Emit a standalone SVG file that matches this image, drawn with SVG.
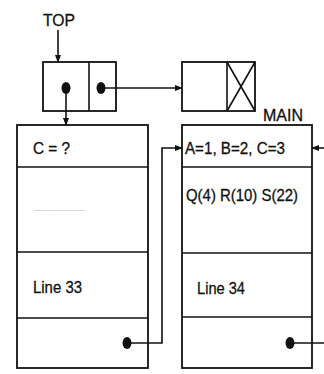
<svg xmlns="http://www.w3.org/2000/svg" width="324" height="374" viewBox="0 0 324 374">
<style>
.box{fill:#fff;stroke:#111;stroke-width:1.8}
.ln{fill:none;stroke:#111;stroke-width:1.6}
.t{font-family:"Liberation Sans",Arial,sans-serif;font-size:17px;fill:#111;stroke:#111;stroke-width:0.3}
.dot{fill:#111}
</style>
<defs>
<marker id="ah" markerWidth="8" markerHeight="8" refX="7" refY="4" orient="auto" markerUnits="userSpaceOnUse">
<path d="M0,1 L8,4 L0,7 Z" fill="#111"/>
</marker>
</defs>
<rect width="324" height="374" fill="#fff"/>
<g id="top-label"><text class="t" x="43" y="26" textLength="32" lengthAdjust="spacingAndGlyphs">TOP</text></g>
<g id="top-node">
<rect class="box" x="43" y="62" width="73" height="49"/>
<line class="ln" x1="89" y1="62" x2="89" y2="111"/>
<ellipse class="dot" cx="66" cy="88" rx="4.5" ry="6"/>
<ellipse class="dot" cx="101" cy="88" rx="4.5" ry="6"/>
</g>
<g id="main-node">
<rect class="box" x="182" y="62" width="73" height="49"/>
<line class="ln" x1="227" y1="62" x2="227" y2="111"/>
<line class="ln" x1="227" y1="62" x2="255" y2="111"/>
<line class="ln" x1="255" y1="62" x2="227" y2="111"/>
<text class="t" x="263" y="121" textLength="40" lengthAdjust="spacingAndGlyphs">MAIN</text>
</g>
<g id="left-block">
<rect class="box" x="17" y="125" width="131" height="243"/>
<line class="ln" x1="17" y1="167" x2="148" y2="167"/>
<line class="ln" x1="17" y1="252" x2="148" y2="252"/>
<line class="ln" x1="17" y1="318" x2="148" y2="318"/>
<text class="t" x="33" y="154" textLength="37" lengthAdjust="spacingAndGlyphs">C = ?</text>
<text x="34" y="211" style="font-family:'Liberation Sans',Arial,sans-serif;font-size:7px;fill:#888" textLength="51">...............................</text>
<text class="t" x="33" y="293" textLength="49" lengthAdjust="spacingAndGlyphs">Line 33</text>
<ellipse class="dot" cx="127" cy="343" rx="4.5" ry="6"/>
</g>
<g id="right-block">
<rect class="box" x="182" y="125" width="130" height="243"/>
<line class="ln" x1="182" y1="167" x2="312" y2="167"/>
<line class="ln" x1="182" y1="253" x2="312" y2="253"/>
<line class="ln" x1="182" y1="317" x2="312" y2="317"/>
<text class="t" x="185" y="154" textLength="100" lengthAdjust="spacingAndGlyphs">A=1, B=2, C=3</text>
<text class="t" x="186" y="201" textLength="112" lengthAdjust="spacingAndGlyphs">Q(4) R(10) S(22)</text>
<text class="t" x="197" y="294" textLength="48" lengthAdjust="spacingAndGlyphs">Line 34</text>
<ellipse class="dot" cx="290" cy="343" rx="4.5" ry="6"/>
</g>
<g id="connectors">
<line class="ln" x1="58" y1="30" x2="58" y2="62" marker-end="url(#ah)"/>
<line class="ln" x1="101" y1="88" x2="182" y2="88" marker-end="url(#ah)"/>
<line class="ln" x1="66" y1="88" x2="66" y2="125" marker-end="url(#ah)"/>
<polyline class="ln" points="127,343 162,343 162,148 182,148" marker-end="url(#ah)"/>
<line class="ln" x1="290" y1="343" x2="324" y2="343"/>
<line class="ln" x1="324" y1="148" x2="312" y2="148" marker-end="url(#ah)"/>
</g>
</svg>
